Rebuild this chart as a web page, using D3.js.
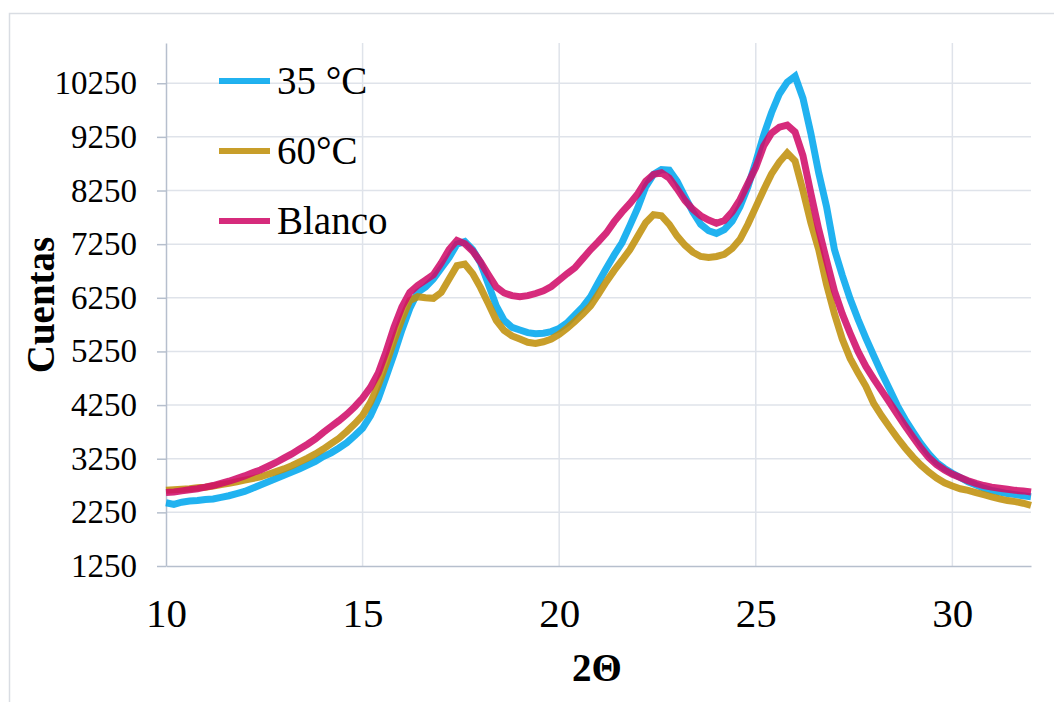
<!DOCTYPE html>
<html>
<head>
<meta charset="utf-8">
<script src="https://cdn.jsdelivr.net/npm/d3@7"></script>
<style>
  html, body { margin: 0; padding: 0; background: #ffffff; }
  svg { display: block; }
</style>
</head>
<body>
<svg id="chart" width="1054" height="702"></svg>
<script>
// Diffraction angle grid (2θ, degrees), 0.2° spacing from 10 to 32
const angles = d3.range(111).map(i => +(10 + i * 0.2).toFixed(1));

// Counts per sample
const counts35 = [
  2430,2400,2440,2460,2470,2490,2500,2530,2560,2600,
  2640,2700,2760,2820,2880,2940,3000,3060,3130,3200,
  3290,3360,3450,3550,3680,3820,4050,4370,4780,5200,
  5650,6050,6350,6450,6600,6800,7000,7250,7300,7150,
  6900,6500,6100,5830,5700,5650,5600,5580,5590,5620,
  5680,5780,5930,6080,6270,6540,6800,7050,7280,7600,
  7930,8320,8550,8640,8630,8420,8130,7850,7620,7500,
  7450,7520,7680,7950,8320,8780,9280,9700,10050,10270,
  10380,9970,9320,8580,7950,7150,6670,6230,5850,5500,
  5170,4850,4550,4240,3980,3750,3530,3340,3180,3070,
  2980,2900,2820,2760,2700,2660,2630,2600,2580,2560,
  2540
];
const counts60 = [
  2660,2670,2680,2690,2710,2720,2740,2770,2790,2820,
  2850,2880,2910,2960,3010,3060,3120,3190,3260,3340,
  3430,3530,3630,3760,3900,4060,4300,4620,5020,5450,
  5850,6200,6270,6250,6240,6350,6600,6850,6880,6700,
  6440,6140,5830,5640,5540,5480,5420,5400,5430,5480,
  5570,5680,5810,5950,6100,6320,6550,6760,6950,7150,
  7400,7650,7800,7780,7620,7400,7230,7100,7020,7000,
  7020,7060,7170,7340,7620,7940,8260,8560,8780,8950,
  8800,8250,7650,7150,6500,5950,5480,5120,4850,4600,
  4280,4050,3840,3640,3450,3280,3130,3000,2890,2800,
  2740,2690,2660,2620,2580,2540,2500,2470,2450,2420,
  2380
];
const countsBlanco = [
  2620,2630,2650,2670,2690,2720,2750,2790,2830,2880,
  2930,2990,3040,3110,3180,3260,3340,3430,3520,3620,
  3740,3850,3960,4080,4220,4380,4580,4850,5250,5700,
  6080,6350,6480,6580,6680,6900,7150,7320,7260,7120,
  6920,6680,6450,6340,6290,6270,6290,6330,6380,6460,
  6580,6700,6810,6980,7150,7300,7460,7670,7850,8010,
  8190,8420,8550,8580,8480,8280,8060,7900,7780,7700,
  7640,7690,7850,8080,8380,8680,9080,9320,9430,9470,
  9340,8900,8200,7530,6950,6380,5950,5590,5250,4970,
  4740,4520,4300,4080,3860,3650,3450,3270,3140,3040,
  2960,2900,2840,2790,2750,2720,2700,2680,2660,2650,
  2630
];

const seriesNames = ["35 °C", "60°C", "Blanco"];
const seriesColors = ["#00a6ee", "#c0900a", "#d00c68"];
const seriesValues = [counts35, counts60, countsBlanco];

const yTicks = [1250, 2250, 3250, 4250, 5250, 6250, 7250, 8250, 9250, 10250];
const xTicks = [10, 15, 20, 25, 30];

const FONT = '"Liberation Serif", "Times New Roman", Tinos, serif';

const svg = d3.select("#chart")
  .attr("font-family", FONT);

// Outer chart frame
svg.append("rect")
  .attr("x", 9.5).attr("y", 13.5)
  .attr("width", 1060).attr("height", 700)
  .attr("fill", "none")
  .attr("stroke", "#d9dde3")
  .attr("stroke-width", 1.5);

const x = d3.scaleLinear().domain([10, 32]).range([166, 1031]);
const y = d3.scaleLinear().domain([1250, 11000]).range([566, 43]);

// Gridlines
const grid = svg.append("g").attr("stroke", "#dfe3ea").attr("stroke-width", 1.5);
grid.selectAll("line.h").data(yTicks.slice(1)).join("line")
  .attr("class", "h")
  .attr("x1", x(10)).attr("x2", x(32))
  .attr("y1", d => y(d)).attr("y2", d => y(d));
grid.selectAll("line.v").data(xTicks.slice(1)).join("line")
  .attr("class", "v")
  .attr("x1", d => x(d)).attr("x2", d => x(d))
  .attr("y1", y(11000)).attr("y2", y(1250));

// Y axis
const yAxis = svg.append("g")
  .attr("transform", `translate(${x(10)},0)`)
  .call(d3.axisLeft(y).tickValues(yTicks).tickSize(9).tickSizeOuter(0).tickPadding(20).tickFormat(d => d));
yAxis.attr("font-family", FONT).attr("font-size", 33);
yAxis.select(".domain").attr("stroke", "#b6bfcd").attr("stroke-width", 1.5);
yAxis.selectAll(".tick line").attr("stroke", "#b6bfcd").attr("stroke-width", 1.5);
yAxis.selectAll(".tick text").attr("fill", "#000");

// X axis
const xAxis = svg.append("g")
  .attr("transform", `translate(0,${y(1250)})`)
  .call(d3.axisBottom(x).tickValues(xTicks).tickSize(0).tickSizeOuter(0).tickFormat(d => d));
xAxis.attr("font-family", FONT).attr("font-size", 41);
xAxis.select(".domain").attr("stroke", "#b6bfcd").attr("stroke-width", 1.5);
xAxis.selectAll(".tick text").attr("y", 61).attr("dy", 0).attr("fill", "#000");

// Series lines, slightly translucent so overlaps blend
const line = d3.line()
  .x((d, i) => x(angles[i]))
  .y(d => y(d))
  .curve(d3.curveLinear);

svg.append("g").selectAll("path").data(seriesValues).join("path")
  .attr("d", d => line(d))
  .attr("fill", "none")
  .attr("stroke", (d, i) => seriesColors[i])
  .attr("stroke-width", 7)
  .attr("stroke-linejoin", "miter")
  .attr("stroke-opacity", 0.87);

// Legend
const legend = svg.append("g").attr("font-family", FONT).attr("font-size", 39);
const legendY = [81, 151, 221];
seriesNames.forEach((name, i) => {
  legend.append("line")
    .attr("x1", 219).attr("x2", 270)
    .attr("y1", legendY[i]).attr("y2", legendY[i])
    .attr("stroke", seriesColors[i]).attr("stroke-opacity", 0.87)
    .attr("stroke-width", 6);
  legend.append("text")
    .attr("x", 277).attr("y", legendY[i]).attr("dy", "0.34em")
    .attr("fill", "#000")
    .text(name);
});

// Axis titles
svg.append("text")
  .attr("transform", "translate(40,305) rotate(-90)")
  .attr("text-anchor", "middle").attr("dy", "0.35em")
  .attr("font-size", 39).attr("font-weight", "bold")
  .text("Cuentas");
svg.append("text")
  .attr("x", 597).attr("y", 667).attr("dy", "0.35em")
  .attr("text-anchor", "middle")
  .attr("font-size", 39).attr("font-weight", "bold")
  .text("2Θ");
</script>
</body>
</html>
